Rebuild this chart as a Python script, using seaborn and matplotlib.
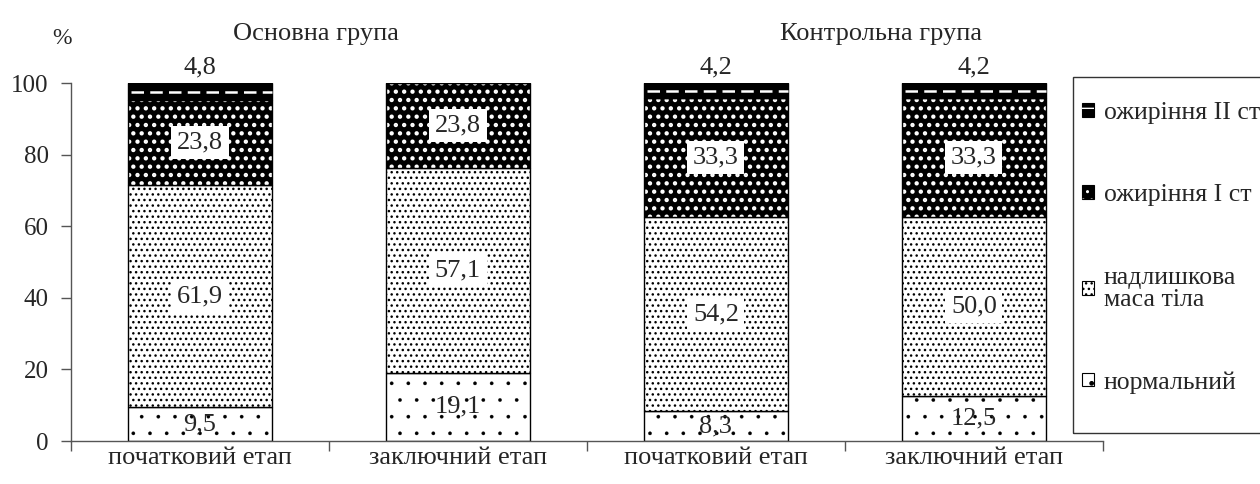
import numpy as np
import matplotlib
matplotlib.use("Agg")
import matplotlib.pyplot as plt
import seaborn as sns
from matplotlib.patches import Patch, Rectangle
from matplotlib.legend_handler import HandlerTuple

# Data
bar_keys = ["osn_start", "osn_end", "kon_start", "kon_end"]
stage_labels = ["початковий етап", "заключний етап", "початковий етап", "заключний етап"]
group_titles = ["Основна група", "Контрольна група"]
segment_names = ["нормальний", "надлишкова\nмаса тіла", "ожиріння I ст", "ожиріння II ст"]
normal = [9.5, 19.1, 8.3, 12.5]
overweight = [61.9, 57.1, 54.2, 50.0]
obesity_1 = [23.8, 23.8, 33.3, 33.3]
obesity_2 = [4.8, 0.0, 4.2, 4.2]

# Style
sns.set_theme(style="white")
plt.rcParams["font.family"] = ["Liberation Serif", "DejaVu Serif"]

faces = ["white", "white", "black", "black"]
hatches = [".", "...", "..", None]
legend_hatches = [".", "...", "..", "-"]
hatch_colors = ["black", "black", "white", "white"]
hatch_widths = [0.2, 1.0, 1.9, 1.0]
FS = 19

fig = plt.figure(figsize=(12.6, 4.84), dpi=100)
ax = fig.add_axes([0.0563, 0.0888, 0.8190, 0.7397])

series = [normal, overweight, obesity_1, obesity_2]
bottom = np.zeros(len(bar_keys))
for vals, face, hatch, hcol, hlw in zip(series, faces, hatches, hatch_colors, hatch_widths):
    vals = np.array(vals)
    with plt.rc_context({"hatch.linewidth": hlw}):
        sns.barplot(x=bar_keys, y=vals, bottom=bottom, ax=ax, width=0.56,
                    color=face, saturation=1, facecolor=face, edgecolor=hcol,
                    linewidth=0, hatch=hatch)
    if hatch:
        for p in ax.patches[-len(bar_keys):]:
            if hasattr(p, "set_hatch_linewidth"):
                p.set_hatch_linewidth(hlw)
    sns.barplot(x=bar_keys, y=vals, bottom=bottom, ax=ax, width=0.56,
                color="white", saturation=1, facecolor="none",
                edgecolor="black", linewidth=1.0)
    bottom = bottom + vals

# dashed white line through the top (obesity II) segments
n = len(bar_keys)
top_patches = ax.patches[-n:]
for p in top_patches:
    if p.get_height() > 0:
        yc = p.get_y() + p.get_height() / 2
        ax.hlines(yc, p.get_x() + 0.012, p.get_x() + p.get_width(),
                  colors="white", linestyles=(0, (5.0, 2.5)), linewidth=1.8, zorder=5)

# value labels
fmt = lambda v: f"{v:.1f}".replace(".", ",")
base = np.zeros(n)
for k, vals in enumerate(series):
    for i, v in enumerate(vals):
        if v <= 0:
            continue
        if k == 3:
            ax.text(i, 102.8, fmt(v), ha="center", va="baseline", fontsize=FS)
        elif k == 0:
            ax.text(i, base[i] + v / 2, fmt(v), ha="center", va="center", fontsize=FS)
        else:
            ax.text(i, base[i] + v / 2, fmt(v), ha="center", va="center", fontsize=FS,
                    bbox=dict(facecolor="white", edgecolor="none", pad=4))
    base = base + np.array(vals)

ax.set_xlim(-0.5, 3.5)
ax.set_ylim(0, 100)
ax.set_yticks(range(0, 101, 20))
ax.set_xticks(np.arange(-0.5, 4, 1))
ax.set_xticklabels([])
ax.set_xticks(range(n), minor=True)
ax.set_xticklabels(stage_labels, minor=True)
ax.tick_params(axis="x", which="major", direction="out", length=7, width=1, color="#555555", bottom=True)
ax.tick_params(axis="x", which="minor", length=0, pad=4, labelsize=FS)
ax.tick_params(axis="y", direction="out", length=7, width=1, color="#555555", left=True,
               labelsize=FS - 1, pad=9)
ax.set_xlabel("")
ax.set_ylabel("")
for s in ["top", "right"]:
    ax.spines[s].set_visible(False)
for s in ["left", "bottom"]:
    ax.spines[s].set_color("#555555")
    ax.spines[s].set_linewidth(1)

# group titles and unit
tr = ax.get_xaxis_transform()
ax.text(0.45, 1.138, group_titles[0], transform=tr, ha="center", va="center", fontsize=FS)
ax.text(2.64, 1.138, group_titles[1], transform=tr, ha="center", va="center", fontsize=FS)
fig.text(62 / 1260, 1 - 39 / 484, "%", ha="center", va="center", fontsize=FS - 2)

# legend
handles = []
for face, hatch, hcol, hlw in zip(faces, legend_hatches, hatch_colors, hatch_widths):
    with plt.rc_context({"hatch.linewidth": min(hlw, 1.2)}):
        handles.append((Patch(facecolor=face, edgecolor="black", linewidth=0.8),
                        Patch(facecolor="none", edgecolor=hcol, hatch=hatch, linewidth=0)))
handles = handles[::-1]
labels = segment_names[::-1]
leg = fig.legend(handles, labels, loc="upper left", bbox_to_anchor=(1073 / 1260, 1 - 93 / 484),
                 handler_map={tuple: HandlerTuple(ndivide=1)}, fontsize=FS - 0.5,
                 handlelength=0.45, handleheight=0.45, handletextpad=0.4,
                 labelspacing=2.35, borderpad=0.35, borderaxespad=0, frameon=False)
for t in leg.get_texts():
    t.set_linespacing(1.0)
fig.patches.append(Rectangle((1073 / 1260, 1 - 433 / 484), 0.2, 356 / 484,
                             transform=fig.transFigure, fill=False,
                             edgecolor="#333333", linewidth=1))

fig.savefig("out.png", dpi=100)
